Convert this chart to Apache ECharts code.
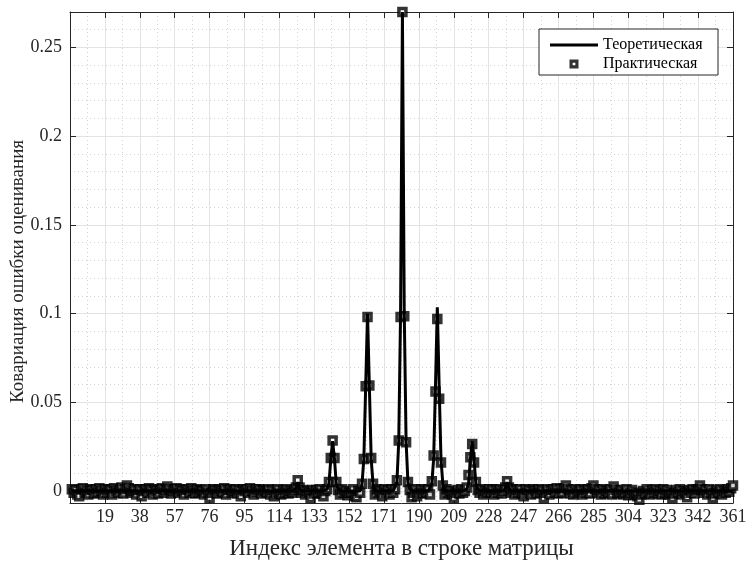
<!DOCTYPE html>
<html>
<head>
<meta charset="utf-8">
<script src="https://cdn.jsdelivr.net/npm/echarts@6/dist/echarts.min.js"></script>
<style>html,body{margin:0;background:#fff}#chart{width:746px;height:561px}</style>
</head>
<body>
<div id="chart"></div>
<script>
// one row of the list per matrix row (19 x 19 = 361 elements)
var practical = [
  0.001, -0.001, 0.0005, -0.002, -0.003, 0.001, 0.0015, -0.001, 0, -0.002, 0.001, 0.0005, -0.0015, 0.001, -0.001, 0.0015, 0, -0.002, 0.001,
  -0.001, 0.001, 0.0005, -0.002, 0.0015, 0, -0.001, 0.001, 0.002, -0.0015, 0.001, 0.003, 0.0015, -0.001, 0, 0.001, -0.002, 0.0005, 0.001,
  -0.003, 0, 0.001, -0.001, 0.0015, 0.0005, -0.002, 0.001, 0, -0.0015, 0.001, 0.0015, -0.001, 0.0005, 0.0025, 0.001, -0.0015, 0, 0.001,
  0.0015, -0.001, 0.001, 0, -0.002, 0.001, 0.0005, -0.001, 0.0015, 0, -0.0015, 0.001, -0.001, 0.0005, 0, -0.002, 0.001, -0.001, -0.004,
  -0.001, 0.001, 0.0005, -0.0015, 0.001, 0, -0.001, 0.0015, -0.002, 0.0005, 0.001, -0.001, 0, 0.001, -0.0015, 0.0005, -0.003, 0.001, 0,
  0.001, -0.001, 0.0015, 0, -0.002, 0.001, -0.0005, 0.001, -0.0015, 0.0005, 0, -0.001, 0.001, -0.002, 0.0005, -0.003, -0.001, 0.001, -0.0015,
  -0.002, 0.0005, -0.001, 0.001, -0.0015, 0, -0.001, 0.0005, 0.002, 0.006, 0.002, -0.001, 0.0005, -0.002, 0, -0.001, -0.004, 0.0005, -0.0015,
  0.0005, -0.001, 0.001, -0.0015, -0.003, 0, 0.001, 0.005, 0.0185, 0.0285, 0.0185, 0.005, 0.0005, -0.002, 0.001, -0.001, 0, -0.0025, -0.001,
  -0.001, 0.001, -0.003, -0.0035, 0, -0.001, 0.004, 0.018, 0.059, 0.098, 0.0595, 0.0185, 0.004, -0.002, 0.001, -0.001, 0, -0.003, 0.001,
  -0.001, 0.0005, -0.002, 0.001, -0.001, 0.001, 0.006, 0.0285, 0.098, 0.27, 0.0985, 0.0275, 0.005, 0.0005, -0.0035, -0.001, 0.001, -0.003, -0.001,
  0.001, -0.0015, 0.0005, -0.001, 0.001, -0.002, 0.0055, 0.02, 0.056, 0.097, 0.052, 0.016, 0.003, -0.002, 0.001, -0.001, 0, -0.002, -0.004,
  -0.001, 0.0005, -0.0015, 0.001, -0.001, 0, 0.002, 0.009, 0.019, 0.0265, 0.016, 0.005, 0.0005, -0.001, 0.001, -0.002, 0, -0.001, 0.001,
  -0.001, 0.001, -0.002, 0.0005, -0.001, 0.001, -0.0015, 0, 0.002, 0.0055, 0.002, -0.001, 0.001, -0.002, 0.0005, -0.001, 0.001, -0.0015, -0.003,
  0.001, -0.001, 0.0005, -0.002, 0.001, 0, -0.0015, 0.001, -0.001, 0.0005, -0.004, -0.001, 0.001, -0.002, 0.0005, 0.001, -0.001, 0.0015, -0.0015,
  0.001, -0.001, 0.0015, 0.003, 0.001, -0.0015, 0.0005, -0.002, 0.001, -0.001, 0, 0.001, -0.002, 0.0005, -0.001, 0.001, -0.0015, 0.0015, 0.003,
  0.001, -0.001, 0.0005, -0.002, 0.001, -0.0015, 0, -0.001, 0.001, -0.002, 0.0025, 0.0005, -0.0015, -0.001, 0.0005, -0.002, -0.001, 0.001, -0.0025,
  -0.001, 0.0005, -0.002, -0.001, -0.003, -0.005, -0.002, 0, -0.0015, 0.001, -0.001, -0.002, 0.0005, -0.001, 0.001, -0.0015, 0, -0.002, 0.001,
  -0.001, 0.0005, -0.002, -0.001, -0.004, -0.0015, 0.0005, -0.001, 0.001, -0.002, 0, -0.001, -0.0035, 0.0005, -0.001, 0.001, -0.0015, 0.0005, 0.001,
  0.003, 0.001, -0.001, 0.0005, -0.002, 0.001, -0.001, -0.004, -0.0015, 0.0005, -0.001, 0.001, -0.002, 0, -0.001, 0.001, -0.0005, 0.0015, 0.003
];

var theoretical = [
  0, 0, 0, 0, 0, 0, 0, 0, 0, 0, 0, 0, 0, 0, 0, 0, 0, 0, 0,
  0, 0, 0, 0, 0, 0, 0, 0, 0, 0, 0, 0, 0, 0, 0, 0, 0, 0, 0,
  0, 0, 0, 0, 0, 0, 0, 0, 0, 0, 0, 0, 0, 0, 0, 0, 0, 0, 0,
  0, 0, 0, 0, 0, 0, 0, 0, 0, 0, 0, 0, 0, 0, 0, 0, 0, 0, 0,
  0, 0, 0, 0, 0, 0, 0, 0, 0, 0, 0, 0, 0, 0, 0, 0, 0, 0, 0,
  0, 0, 0, 0, 0, 0, 0, 0, 0, 0, 0, 0, 0, 0, 0, 0, 0, 0, 0,
  0, 0, 0, 0, 0, 0, 0, 0, 0.0015, 0.005, 0.0015, 0, 0, 0, 0, 0, 0, 0, 0,
  0, 0, 0, 0, 0, 0, 0.001, 0.004, 0.018, 0.028, 0.018, 0.004, 0.001, 0, 0, 0, 0, 0, 0,
  0, 0, 0, 0, 0, 0, 0.004, 0.018, 0.059, 0.1, 0.059, 0.018, 0.004, 0, 0, 0, 0, 0, 0,
  0, 0, 0, 0, 0, 0.001, 0.005, 0.028, 0.1, 0.27, 0.1, 0.028, 0.005, 0.001, 0, 0, 0, 0, 0,
  0, 0, 0, 0, 0, 0, 0.004, 0.018, 0.059, 0.1035, 0.059, 0.018, 0.004, 0, 0, 0, 0, 0, 0,
  0, 0, 0, 0, 0, 0, 0.001, 0.004, 0.018, 0.028, 0.018, 0.004, 0.001, 0, 0, 0, 0, 0, 0,
  0, 0, 0, 0, 0, 0, 0, 0, 0.0015, 0.005, 0.0015, 0, 0, 0, 0, 0, 0, 0, 0,
  0, 0, 0, 0, 0, 0, 0, 0, 0, 0, 0, 0, 0, 0, 0, 0, 0, 0, 0,
  0, 0, 0, 0, 0, 0, 0, 0, 0, 0, 0, 0, 0, 0, 0, 0, 0, 0, 0,
  0, 0, 0, 0, 0, 0, 0, 0, 0, 0, 0, 0, 0, 0, 0, 0, 0, 0, 0,
  0, 0, 0, 0, 0, 0, 0, 0, 0, 0, 0, 0, 0, 0, 0, 0, 0, 0, 0,
  0, 0, 0, 0, 0, 0, 0, 0, 0, 0, 0, 0, 0, 0, 0, 0, 0, 0, 0,
  0, 0, 0, 0, 0, 0, 0, 0, 0, 0, 0, 0, 0, 0, 0, 0, 0, 0, 0
];

var seriesNames = ['Теоретическая', 'Практическая'];
var xTitle = 'Индекс элемента в строке матрицы';
var yTitle = 'Ковариация ошибки оценивания';

function pairs(arr) {
  return arr.map(function (v, i) { return [i + 1, v]; });
}

var font = 'Liberation Serif';
var axisColor = '#262626';

var myChart = echarts.init(document.getElementById('chart'));
var option = {
  animation: false,
  backgroundColor: '#fff',
  grid: { left: 70, right: 13, top: 12, bottom: 58, outerBoundsMode: 'none', containLabel: false },
  graphic: [{
    type: 'rect', z: 5,
    shape: { x: 539, y: 29, width: 179, height: 46 },
    style: { fill: '#fff', stroke: axisColor, lineWidth: 1 }
  }],
  legend: {
    z: 6,
    orient: 'vertical',
    left: 545, top: 32,
    itemWidth: 48, itemHeight: 9, itemGap: 3,
    textStyle: { fontFamily: font, fontSize: 16, color: '#000' },
    data: [
      { name: seriesNames[0], icon: 'path://M0,0H48V3H0Z', itemStyle: { color: '#000', borderWidth: 0 } },
      { name: seriesNames[1], icon: 'path://M0,0H10V10H0Z M3.5,3.5V6.5H6.5V3.5Z', itemStyle: { color: '#000', borderWidth: 0 } }
    ]
  },
  xAxis: [{
    type: 'value', min: 0, max: 361, interval: 19,
    name: xTitle, nameLocation: 'middle', nameGap: 34, nameMoveOverlap: false,
    nameTextStyle: { fontFamily: font, fontSize: 23, color: axisColor },
    axisLine: { onZero: false, lineStyle: { color: axisColor } },
    axisTick: { inside: true, length: 6, lineStyle: { color: axisColor } },
    axisLabel: { showMinLabel: false, fontFamily: font, fontSize: 18, color: axisColor, margin: 5 },
    splitLine: { show: true, lineStyle: { color: '#e3e3e3' } },
    minorTick: { show: false, splitNumber: 2 },
    minorSplitLine: { show: true, lineStyle: { color: '#d4d4d4', type: [1, 3] } }
  }, {
    type: 'value', min: 0, max: 361, interval: 19, position: 'top',
    axisLine: { onZero: false, lineStyle: { color: axisColor } },
    axisTick: { inside: true, length: 6, lineStyle: { color: axisColor } },
    axisLabel: { show: false },
    splitLine: { show: false }
  }],
  yAxis: [{
    type: 'value', min: -0.0068, max: 0.27, splitNumber: 5,
    name: yTitle, nameLocation: 'middle', nameGap: 42, nameMoveOverlap: false,
    nameTextStyle: { fontFamily: font, fontSize: 19, color: axisColor, padding: [0, 28, 0, 0] },
    axisLine: { show: true, onZero: false, lineStyle: { color: axisColor } },
    axisTick: { show: true, inside: true, length: 6, lineStyle: { color: axisColor } },
    axisLabel: { showMinLabel: false, showMaxLabel: false, fontFamily: font, fontSize: 18, color: axisColor, margin: 8 },
    splitLine: { show: true, lineStyle: { color: '#e3e3e3' } },
    minorTick: { show: false, splitNumber: 5 },
    minorSplitLine: { show: true, lineStyle: { color: '#d4d4d4', type: [1, 3] } }
  }, {
    type: 'value', min: -0.0068, max: 0.27, splitNumber: 5, position: 'right',
    axisLine: { show: true, onZero: false, lineStyle: { color: axisColor } },
    axisTick: { show: true, inside: true, length: 6, lineStyle: { color: axisColor } },
    axisLabel: { show: false },
    splitLine: { show: false }
  }],
  series: [{
    name: seriesNames[0],
    type: 'line',
    symbol: 'none',
    data: pairs(theoretical),
    lineStyle: { color: '#000', width: 3 },
    itemStyle: { color: '#000' }
  }, {
    name: seriesNames[1],
    type: 'scatter',
    symbol: 'rect',
    symbolSize: 7,
    data: pairs(practical),
    itemStyle: { color: '#fff', borderColor: '#000', borderWidth: 3.5 }
  }]
};

option && myChart.setOption(option);
</script>
</body>
</html>
